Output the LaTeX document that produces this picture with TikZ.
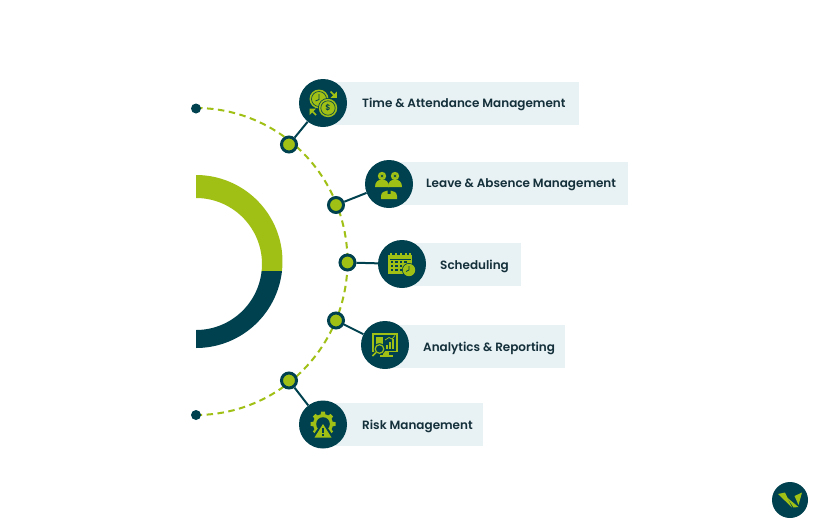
\documentclass[tikz,border=0pt]{standalone}
\usepackage{fontspec}
\setmainfont{Poppins SemiBold}
\definecolor{dk}{HTML}{00414F}
\definecolor{gr}{HTML}{A0C015}
\definecolor{bx}{HTML}{E8F1F4}
\definecolor{tx}{HTML}{14303A}
\tikzset{
 boxn/.style={fill=bx,draw=none,anchor=north west,minimum height=43pt,inner sep=0pt},
 txt/.style={anchor=west,inner sep=0pt,text=tx,font=\fontsize{12}{14}\selectfont},
 hub/.style={circle,fill=dk,draw=none,minimum size=48pt,inner sep=0pt},
 dotn/.style={circle,fill=gr,draw=dk,line width=3pt,minimum size=15pt,inner sep=0pt},
 endn/.style={circle,fill=dk,draw=none,minimum size=10pt,inner sep=0pt},
 conn/.style={draw=dk,line width=2pt},
}
\newcommand{\ringshape}{
 plot[domain=-90:90,samples=80] ({196+86.5*cos(\x)},{261.5+86.5*sin(\x)}) --
 plot[domain=90:-90,samples=80] ({196+66*cos(\x)},{264+66*sin(\x)}) -- cycle}
\begin{document}
\begin{tikzpicture}[x=1pt,y=-1pt]
\useasboundingbox[fill=white] (0,0) rectangle (818,528);
% ring
\begin{scope}
\clip (190,170) rectangle (290,271);
\fill[gr] \ringshape;
\end{scope}
\begin{scope}
\clip (190,271) rectangle (290,355);
\fill[dk] \ringshape;
\end{scope}
% dashed arc
\draw[gr,line width=2pt,dash pattern=on 6.5pt off 4.5pt] plot[domain=-90:90,samples=90] ({196+151.5*cos(\x)},{261.5+153.5*sin(\x)});
\node[endn] (e1) at (196,108.5) {};
\node[endn] (e2) at (196,415) {};
% boxes
\node[boxn,minimum width=256pt] (b1) at (323,82) {};
\node[boxn,minimum width=239pt] (b2) at (389,162) {};
\node[boxn,minimum width=119pt] (b3) at (402,243) {};
\node[boxn,minimum width=180pt] (b4) at (385,325) {};
\node[boxn,minimum width=160pt] (b5) at (323,403) {};
\node[txt] (t1) at (362,104) {Time \& Attendance Management};
\node[txt] (t2) at (426,185) {Leave \& Absence Management};
\node[txt] (t3) at (440,266.5) {Scheduling};
\node[txt] (t4) at (423,348) {Analytics \& Reporting};
\node[txt] (t5) at (362,426) {Risk Management};
% hubs and dots
\node[hub] (c1) at (323,103) {};
\node[hub] (c2) at (389,184) {};
\node[hub] (c3) at (402,264) {};
\node[hub] (c4) at (385,345) {};
\node[hub] (c5) at (323,424.5) {};
\node[dotn] (d1) at (289,144.5) {};
\node[dotn] (d2) at (336,205) {};
\node[dotn] (d3) at (347.5,262.5) {};
\node[dotn] (d4) at (336,320.5) {};
\node[dotn] (d5) at (289,380.5) {};
\draw[conn] (d1) -- (c1);
\draw[conn] (d2) -- (c2);
\draw[conn] (d3) -- (c3);
\draw[conn] (d4) -- (c4);
\draw[conn] (d5) -- (c5);
% icon 1: clock, coin, arrows
\fill[gr] (319,99) circle[radius=9.5pt];
\draw[dk,line width=.6pt] (319,99) circle[radius=7.5pt];
\draw[dk,line width=.8pt] (319,94) -- (319,99.5) -- (315.5,101);
\fill[dk] (328,108) circle[radius=10pt];
\fill[gr] (328,108) circle[radius=9.2pt];
\draw[dk,line width=.6pt] (328,108) circle[radius=7.2pt];
\node[text=dk,inner sep=0pt,font=\fontsize{8}{8}\selectfont] (cs) at (328,108) {\$};
\draw[gr,line width=1.7pt] (330.5,91.5) -- (335.5,96.5);
\fill[gr] (336.8,97.8) -- (336.8,91.5) -- (330.5,97.8) -- cycle;
\draw[gr,line width=1.7pt] (316,115) -- (311,110);
\fill[gr] (309.7,108.7) -- (309.7,115) -- (316,108.7) -- cycle;
% icon 2: three people
\foreach \px/\py in {382/176,395/176}{
 \fill[gr] (\px,\py) circle[radius=4.2pt];
 \fill[gr] (\px-7,\py+11) .. controls (\px-7,\py+6) and (\px-4,\py+3.5) .. (\px,\py+3.5) .. controls (\px+4,\py+3.5) and (\px+7,\py+6) .. (\px+7,\py+11) -- cycle;
}
\draw[dk,line width=.6pt] (380.8,174.8) -- (383.2,177.2) (380.8,177.2) -- (383.2,174.8) (393.8,174.8) -- (396.2,177.2) (393.8,177.2) -- (396.2,174.8);
\fill[gr] (381,199) -- (381,196) .. controls (381,192) and (385,191) .. (387.5,190.5) -- (387.5,194) -- (390.5,194) -- (390.5,190.5) .. controls (393,191) and (397,192) .. (397,196) -- (397,199) -- cycle;
% icon 3: calendar with clock
\fill[gr] (388,255) rectangle (412,273.5);
\foreach \cx in {391,396,401,406,410}{\fill[gr] (\cx-.8,253) rectangle (\cx+.8,257);}
\fill[dk] (389.5,258.5) rectangle (410.5,259.2);
\foreach \cx in {392,396.5,401,405.5}{\foreach \cy in {262,266,270}{\fill[dk] (\cx-1.1,\cy-1.1) rectangle (\cx+1.1,\cy+1.1);}}
\fill[dk] (409,270) circle[radius=7pt];
\fill[gr] (409,270) circle[radius=6.2pt];
\draw[dk,line width=.8pt] (409,266) -- (409,270) -- (406,271.5);
% icon 4: monitor
\fill[gr] (372,333) rectangle (397.5,352);
\fill[dk] (373.5,334.5) rectangle (396,350.5);
\fill[gr] (383,352) rectangle (389,355);
\fill[gr] (380,355) rectangle (393,356.5);
\fill[gr] (376,337) rectangle (383,346);
\foreach \bx/\bh in {386/4,389/7,392/10}{\fill[gr] (\bx,349) rectangle (\bx+2,349-\bh);}
\draw[gr,line width=.8pt] (385,340) -- (389,337.5) -- (392,339) -- (395,335.5);
\fill[dk] (379.5,349) circle[radius=5.8pt];
\draw[gr,line width=1.2pt] (379.5,349) circle[radius=4.3pt];
\draw[gr,line width=1.6pt] (376,352.5) -- (372.5,356);
% icon 5: gear + warning
\fill[gr] (323,424) circle[radius=10pt];
\foreach \a in {0,45,...,315}{\fill[gr,shift={(323,424)},rotate=\a] (-2.5,-9) -- (-1.8,-12.5) -- (1.8,-12.5) -- (2.5,-9) -- cycle;}
\fill[dk] (323,424) circle[radius=6.8pt];
\fill[dk] (323,421) -- (335,438.5) -- (311,438.5) -- cycle;
\fill[gr] (323,424) -- (331.5,437.5) -- (314.5,437.5) -- cycle;
\fill[dk] (322.2,428) rectangle (323.8,433);
\fill[dk] (322.2,434) rectangle (323.8,435.7);
% logo
\node[circle,fill=dk,draw=none,minimum size=36pt,inner sep=0pt] (logo) at (790,500) {};
\fill[gr] (778,494) -- (785,492.5) -- (792,507.5) -- cycle;
\fill[gr] (786.5,497) -- (798.5,507) -- (793.5,507.5) -- cycle;
\fill[gr] (794.5,496) -- (802,492.5) -- (798.5,505) -- cycle;
\end{tikzpicture}
\end{document}
